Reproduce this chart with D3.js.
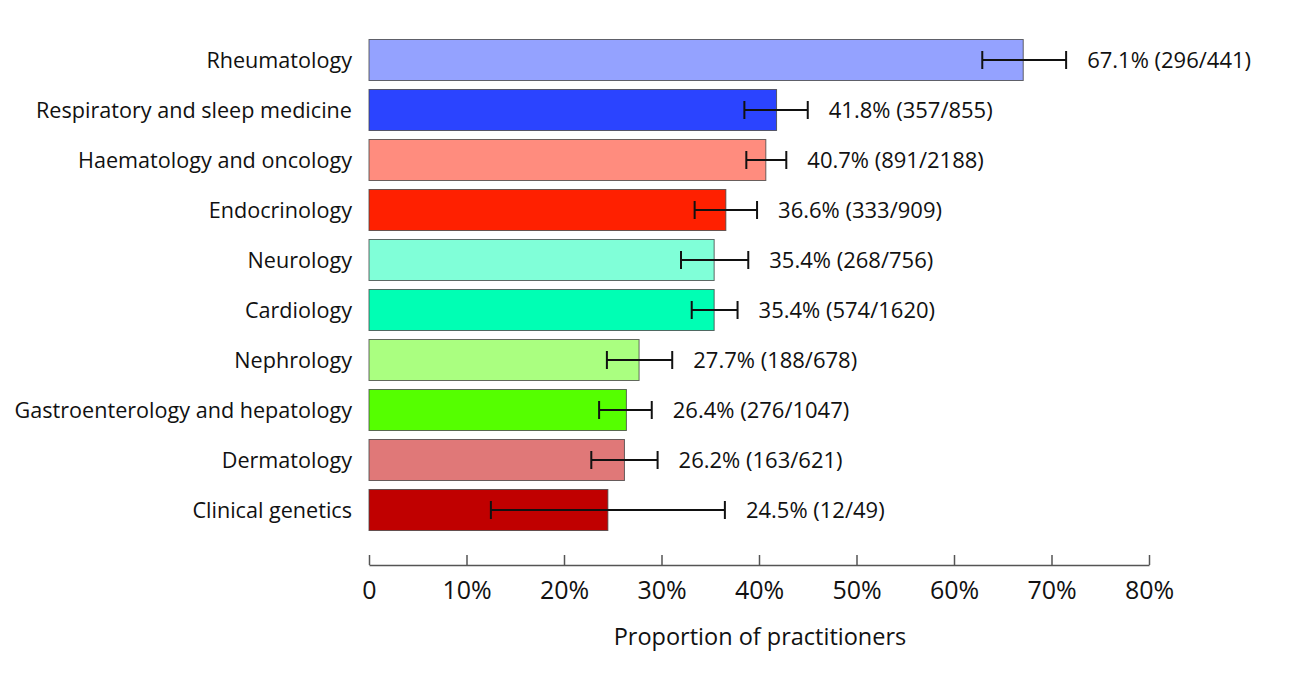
<!DOCTYPE html>
<html>
<head>
<meta charset="utf-8">
<script src="https://cdn.jsdelivr.net/npm/d3@7"></script>
<style>
body{margin:0;background:#fff;}
text{font-family:"Open Sans",sans-serif;fill:#111;}
</style>
</head>
<body>
<svg id="chart" width="1290" height="675"></svg>
<script>
// data
const categories = ["Rheumatology","Respiratory and sleep medicine","Haematology and oncology","Endocrinology","Neurology","Cardiology","Nephrology","Gastroenterology and hepatology","Dermatology","Clinical genetics"]
const values = [67.1,41.8,40.7,36.6,35.4,35.4,27.7,26.4,26.2,24.5]
const ciLow = [62.9,38.5,38.7,33.4,32.0,33.1,24.4,23.6,22.8,12.5]
const ciHigh = [71.5,45.0,42.8,39.8,38.9,37.8,31.1,29.0,29.6,36.5]
const counts = ["296/441","357/855","891/2188","333/909","268/756","574/1620","188/678","276/1047","163/621","12/49"]
const barColors = ["#94a2ff","#2b44ff","#ff8c7e","#ff2000","#80ffd8","#00ffb4","#aaff80","#55ff00","#e07878","#c00000"]
const ticks = [0,10,20,30,40,50,60,70,80]

const svg = d3.select("#chart")

const x = d3.scaleLinear().domain([0,80]).range([369,1149])
const y = d3.scaleBand().domain(categories).range([35,535]).paddingInner(0.18).paddingOuter(0.09)

// bars
svg.append("g").selectAll("rect")
    .data(categories)
    .enter()
    .append("rect")
    .attr("x", x(0))
    .attr("y", d => y(d))
    .attr("width", (d,i) => x(values[i]) - x(0))
    .attr("height", y.bandwidth())
    .attr("fill", (d,i) => barColors[i])
    .attr("stroke", "#444")
    .attr("stroke-opacity", 0.8)
    .attr("stroke-width", 1)

// category labels
svg.append("g").selectAll("text")
    .data(categories)
    .enter()
    .append("text")
    .attr("x", 352)
    .attr("y", d => y(d) + y.bandwidth()/2)
    .attr("dy", "0.35em")
    .attr("text-anchor", "end")
    .attr("font-size", "21.6px")
    .text(d => d)

// error bars
const eb = svg.append("g").attr("stroke", "#111").attr("stroke-width", 2)
categories.forEach((c,i) => {
    const cy = y(c) + y.bandwidth()/2
    eb.append("line").attr("x1", x(ciLow[i])).attr("x2", x(ciHigh[i])).attr("y1", cy).attr("y2", cy)
    eb.append("line").attr("x1", x(ciLow[i])).attr("x2", x(ciLow[i])).attr("y1", cy-9).attr("y2", cy+9)
    eb.append("line").attr("x1", x(ciHigh[i])).attr("x2", x(ciHigh[i])).attr("y1", cy-9).attr("y2", cy+9)
})

// value labels
svg.append("g").selectAll("text")
    .data(categories)
    .enter()
    .append("text")
    .attr("x", (d,i) => x(Math.max(values[i], ciHigh[i])) + 21)
    .attr("y", d => y(d) + y.bandwidth()/2)
    .attr("dy", "0.35em")
    .attr("font-size", "22px")
    .text((d,i) => values[i].toFixed(1) + "% (" + counts[i] + ")")

// x axis
const axis = d3.axisBottom(x)
    .tickValues(ticks)
    .tickSizeInner(-10)
    .tickSizeOuter(0)
    .tickPadding(16)
    .tickFormat(d => d === 0 ? "0" : d + "%")
const ax = svg.append("g").attr("transform", "translate(0,565)").call(axis)
ax.select(".domain").attr("stroke", "#555").attr("stroke-width", 1.5)
ax.selectAll(".tick line").attr("stroke", "#555").attr("stroke-width", 1.5)
ax.selectAll(".tick text").attr("font-size", "25px").attr("font-family", "Open Sans, sans-serif").attr("fill", "#111")

svg.append("text")
    .attr("x", 760)
    .attr("y", 645)
    .attr("text-anchor", "middle")
    .attr("font-size", "23.5px")
    .text("Proportion of practitioners")
</script>
</body>
</html>
